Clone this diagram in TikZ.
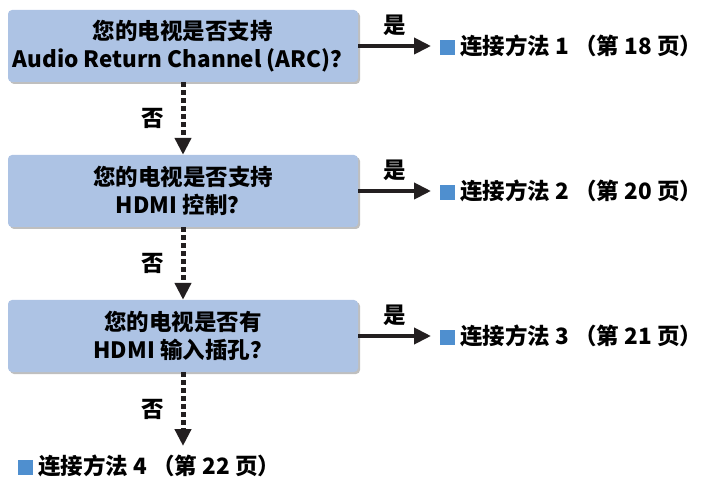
\documentclass[tikz,border=0pt]{standalone}
\usepackage{fontspec}
\setmainfont{Noto Sans CJK SC}
\usepackage{tikz}
\usetikzlibrary{
    arrows.meta,
    calc
}
\definecolor{boxblue}{HTML}{ADC3E4}
\definecolor{markblue}{HTML}{4F8FCF}
\definecolor{inkdark}{HTML}{231F20}
\newcommand{\resultmark}{\textcolor{markblue}{\rule[-0.5pt]{15pt}{15pt}}}

\begin{document}
\begin{tikzpicture}[x=1pt,y=-1pt,
    font=\fontsize{22.5}{28}\selectfont\bfseries,
    question/.style={draw=none,fill=boxblue,rounded corners=4pt,
        minimum width=350pt,minimum height=72pt,align=center,inner sep=0pt,text=black},
    yesarrow/.style={inkdark,line width=4pt,-{Triangle[length=17pt,width=16pt]}},
    noarrow/.style={inkdark,line width=5pt,dash pattern=on 5pt off 3pt,-{Triangle[length=17pt,width=16pt]}}
]
\useasboundingbox (0,0) rectangle (707,478);

% Question boxes (with shadows)
\foreach \y in {46,191,336}
  \fill[black!25,rounded corners=4pt] (10,\y-34) rectangle (360,\y+38);
\node[question] (q1) at (183,46) {您的电视是否支持\\Audio Return Channel (ARC)？};
\node[question] (q2) at (183,191) {您的电视是否支持\\HDMI 控制？};
\node[question] (q3) at (183,336) {您的电视是否有\\HDMI 输入插孔？};

% Results
\node[anchor=west,inner sep=0pt] (r1) at (440,46) {\resultmark\ 连接方法 1 （第 18 页）};
\node[anchor=west,inner sep=0pt] (r2) at (440,191) {\resultmark\ 连接方法 2 （第 20 页）};
\node[anchor=west,inner sep=0pt] (r3) at (440,336) {\resultmark\ 连接方法 3 （第 21 页）};
\node[anchor=west,inner sep=0pt] (r4) at (18,466) {\resultmark\ 连接方法 4 （第 22 页）};

% Yes arrows
\coordinate (y1) at (431,46);
\coordinate (y2) at (431,191);
\coordinate (y3) at (431,336);
\draw[yesarrow] (q1.east) -- (y1) node[midway,above=5pt,text=black] {是};
\draw[yesarrow] (q2.east) -- (y2) node[midway,above=5pt,text=black] {是};
\draw[yesarrow] (q3.east) -- (y3) node[midway,above=5pt,text=black] {是};

% No arrows
\coordinate (n3) at (183,446);
\draw[noarrow] (q1.south) -- (q2.north) node[midway,left=13pt,text=black] {否};
\draw[noarrow] (q2.south) -- (q3.north) node[midway,left=13pt,text=black] {否};
\draw[noarrow] (q3.south) -- (n3) node[midway,left=13pt,text=black] {否};

\end{tikzpicture}
\end{document}
